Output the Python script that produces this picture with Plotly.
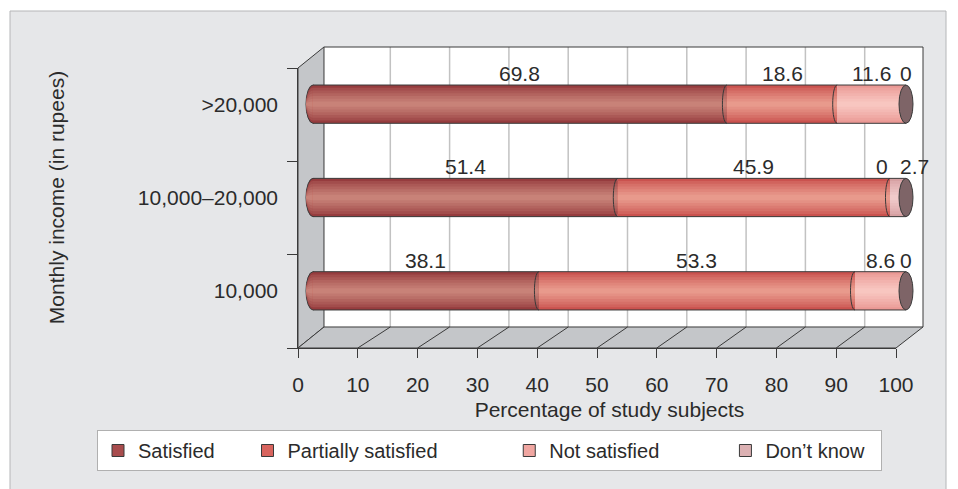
import plotly.graph_objects as go

# ---------------- data ----------------
categories = ["10,000", "10,000–20,000", ">20,000"]          # bottom -> top
series_names = ["Satisfied", "Partially satisfied", "Not satisfied", "Don’t know"]
satisfied = [38.1, 51.4, 69.8]
partially_satisfied = [53.3, 45.9, 18.6]
not_satisfied = [8.6, 0, 11.6]
dont_know = [0, 2.7, 0]
x_ticks = [0, 10, 20, 30, 40, 50, 60, 70, 80, 90, 100]
x_title = "Percentage of study subjects"
y_title = "Monthly income (in rupees)"

series_values = [satisfied, partially_satisfied, not_satisfied, dont_know]

# ---------------- styling ----------------
W, H = 958, 489
FONT = "Liberation Sans, Arial, Helvetica, sans-serif"
TXT = "#2b2b2b"
DARK = "#3a3a3a"
WALL = "#c4c6c9"
PANEL = "#e6e7e9"

# cylinder shading: (edge colour, centre colour)
shades = [
    ((150, 60, 62), (200, 130, 120)),
    ((202, 82, 78), (232, 154, 140)),
    ((234, 152, 148), (248, 198, 192)),
    ((214, 160, 162), (240, 202, 202)),
]
legend_colors = ["#a84c4d", "#d8645e", "#f0a6a1", "#dcb1b3"]
legend_pad = [5, 12, 11, 2]
cap_color = "#7e6467"

# geometry (pixels) of the pseudo-3D box
FX0, FX1, FY0, FY1 = 298, 896, 68, 348      # front plane (value 0..100)
BX0, BX1, BY0, BY1 = 331, 924, 47, 327      # back plane (value 0..100)
WALL_L, WALL_R = 324, 923
PX0, PX1, PY0, PY1 = 313, 906, 57.5, 337.5  # bar plane (value 0..100)
BAR_RANGE = [-3, 103]                        # margin so the round caps are not clipped
BAR_W = 0.41
N_LAYERS = 7
CAP_RX = 7


def fx(p):
    return p / W


def fy(p):
    return 1 - p / H


def front_x(v):
    return FX0 + (FX1 - FX0) * v / 100


def back_x(v):
    return BX0 + (BX1 - BX0) * v / 100


def bar_px(v):
    return PX0 + (PX1 - PX0) * v / 100


def lerp(c0, c1, t):
    return "rgb({},{},{})".format(*[round(a + (b - a) * t) for a, b in zip(c0, c1)])


def layer_spec(k):
    f = k / (N_LAYERS - 1)
    width = BAR_W * (1 - 0.86 * f)
    return width, f ** 0.8


def poly(points):
    return "M" + " L".join(f"{fx(x):.5f},{fy(y):.5f}" for x, y in points) + " Z"


shapes = []
# outer panel
shapes.append(dict(type="rect", xref="paper", yref="paper", x0=fx(10), x1=fx(946),
                   y0=-0.05, y1=fy(11), fillcolor=PANEL, line=dict(color="#b5b6b8", width=1),
                   layer="below"))
# back wall
shapes.append(dict(type="rect", xref="paper", yref="paper", x0=fx(WALL_L), x1=fx(WALL_R),
                   y0=fy(BY1), y1=fy(BY0), fillcolor="white", line=dict(width=0), layer="below"))
for v in x_ticks[1:-1]:
    shapes.append(dict(type="line", xref="paper", yref="paper", x0=fx(back_x(v)), x1=fx(back_x(v)),
                       y0=fy(BY1), y1=fy(BY0), line=dict(color="#c2c2c2", width=1.5), layer="below"))
shapes.append(dict(type="path", xref="paper", yref="paper",
                   path=f"M{fx(WALL_L)},{fy(BY0)} L{fx(WALL_R)},{fy(BY0)} L{fx(WALL_R)},{fy(BY1)}",
                   line=dict(color=DARK, width=1), layer="below"))
# left wall and floor
shapes.append(dict(type="path", xref="paper", yref="paper",
                   path=poly([(FX0, FY0), (WALL_L, BY0), (WALL_L, BY1), (FX0, FY1)]),
                   fillcolor=WALL, line=dict(color=DARK, width=1), layer="below"))
shapes.append(dict(type="path", xref="paper", yref="paper",
                   path=poly([(FX0, FY1), (WALL_L, BY1), (WALL_R, BY1), (FX1, FY1)]),
                   fillcolor=WALL, line=dict(color=DARK, width=1), layer="below"))
for v in x_ticks[1:-1]:
    shapes.append(dict(type="line", xref="paper", yref="paper", x0=fx(front_x(v)), x1=fx(back_x(v)),
                       y0=fy(FY1), y1=fy(BY1), line=dict(color=DARK, width=1), layer="below"))

fig = go.Figure()

# legend entries
for name, col, pad in zip(series_names, legend_colors, legend_pad):
    fig.add_trace(go.Bar(x=[None], y=[None], orientation="h", name=name + "\u00a0" * pad,
                         marker=dict(color=col, line=dict(color=DARK, width=1)),
                         xaxis="x", yaxis="y", hoverinfo="skip"))

# cumulative starts
n_cat = len(categories)
starts = []
acc = [0.0] * n_cat
for vals in series_values:
    starts.append(acc[:])
    acc = [a + v for a, v in zip(acc, vals)]
totals = acc

# cylinder bars: layered for shading
for vals, st, (edge, centre) in zip(series_values, starts, shades):
    for k in range(N_LAYERS):
        wk, t = layer_spec(k)
        fig.add_trace(go.Bar(x=vals, base=st, y=categories, orientation="h", width=wk,
                             marker=dict(color=lerp(edge, centre, t), line=dict(width=0)),
                             xaxis="x2", yaxis="y2", showlegend=False, hoverinfo="skip"))

annotations = []
for j in range(n_cat):
    top, bot = j + BAR_W / 2, j - BAR_W / 2
    # left rounded cap in colour of first non-zero segment
    first = next(i for i, vals in enumerate(series_values) if vals[j] > 0)
    edge, centre = shades[first]
    for k in range(N_LAYERS):
        wk, t = layer_spec(k)
        shapes.append(dict(type="circle", xref="x2", yref="y2", xsizemode="pixel", xanchor=0,
                           x0=-CAP_RX, x1=CAP_RX, y0=j - wk / 2, y1=j + wk / 2,
                           fillcolor=lerp(edge, centre, t),
                           line=dict(color=DARK, width=1 if k == 0 else 0), layer="below"))
    # outline
    for yy in (top, bot):
        shapes.append(dict(type="line", xref="x2", yref="y2", x0=0, x1=totals[j], y0=yy, y1=yy,
                           line=dict(color=DARK, width=1), layer="above"))
    # segment boundaries
    nz = [i for i, vals in enumerate(series_values) if vals[j] > 0]
    for i in nz[1:]:
        b = starts[i][j]
        shapes.append(dict(type="path", xref="x2", yref="y2", xsizemode="pixel", xanchor=b,
                           path=f"M0,{top} C-6,{top} -6,{bot} 0,{bot}",
                           line=dict(color=DARK, width=1), layer="above"))
    # end cap
    shapes.append(dict(type="circle", xref="x2", yref="y2", xsizemode="pixel", xanchor=totals[j],
                       x0=-CAP_RX, x1=CAP_RX, y0=bot, y1=top, fillcolor=cap_color,
                       line=dict(color=DARK, width=1), layer="above"))
    # value labels
    for i, vals in enumerate(series_values):
        v = vals[j]
        small = v < 5
        nxt = series_values[i + 1][j] if i + 1 < len(series_values) else None
        prv = series_values[i - 1][j] if i > 0 else None
        anchor = "center"
        if small and nxt is not None and 0 < nxt < 5:
            anchor = "right"
        elif small and prv is not None and prv < 5:
            anchor = "left"
        annotations.append(dict(x=starts[i][j] + v / 2, y=top, xref="x2", yref="y2",
                                text=f"{v:g}", showarrow=False, xanchor=anchor, yanchor="bottom",
                                yshift=-2, font=dict(size=21, color=TXT, family=FONT)))

fig.update_layout(
    width=W, height=H,
    margin=dict(l=0, r=0, t=0, b=0),
    paper_bgcolor="white", plot_bgcolor="rgba(0,0,0,0)",
    barmode="overlay",
    hovermode=False,
    font=dict(family=FONT, size=21, color=TXT),
    shapes=shapes,
    annotations=annotations,
    showlegend=True,
    legend=dict(orientation="h", x=fx(97), y=fy(430), xanchor="left", yanchor="top",
                bgcolor="white", bordercolor="#b0b0b0", borderwidth=1,
                font=dict(size=20, color=TXT, family=FONT), traceorder="normal"),
    xaxis=dict(domain=[fx(FX0), fx(FX1)], range=[0, 100], anchor="y", tickvals=x_ticks,
               ticks="outside", ticklen=9, tickcolor=DARK, tickwidth=1, showline=True,
               linecolor=DARK, linewidth=1, showgrid=False, zeroline=False, automargin=False,
               ticklabelstandoff=9,
               tickfont=dict(size=21, color=TXT), fixedrange=True),
    yaxis=dict(domain=[fy(FY1), fy(FY0)], range=[-0.5, 2.5], anchor="x",
               tickvals=[-0.5, 0.5, 1.5, 2.5], ticks="outside", ticklen=10, tickcolor=DARK,
               showticklabels=False, showline=True, linecolor=DARK, showgrid=False,
               zeroline=False, automargin=False, fixedrange=True),
    xaxis2=dict(domain=[fx(bar_px(BAR_RANGE[0])), fx(bar_px(BAR_RANGE[1]))], range=BAR_RANGE,
                anchor="y2", showticklabels=False,
                ticks="", showline=False, showgrid=False, zeroline=False, automargin=False,
                title=dict(text=x_title, standoff=64, font=dict(size=21, color=TXT)),
                fixedrange=True),
    yaxis2=dict(domain=[fy(PY1), fy(PY0)], type="category", categoryorder="array",
                categoryarray=categories, range=[-0.5, 2.5], anchor="free", position=fx(278),
                ticks="", showline=False, showgrid=False, zeroline=False, automargin=False,
                tickfont=dict(size=21, color=TXT),
                title=dict(text=y_title, standoff=66, font=dict(size=21, color=TXT)),
                fixedrange=True),
)

fig.write_html("out.html")
